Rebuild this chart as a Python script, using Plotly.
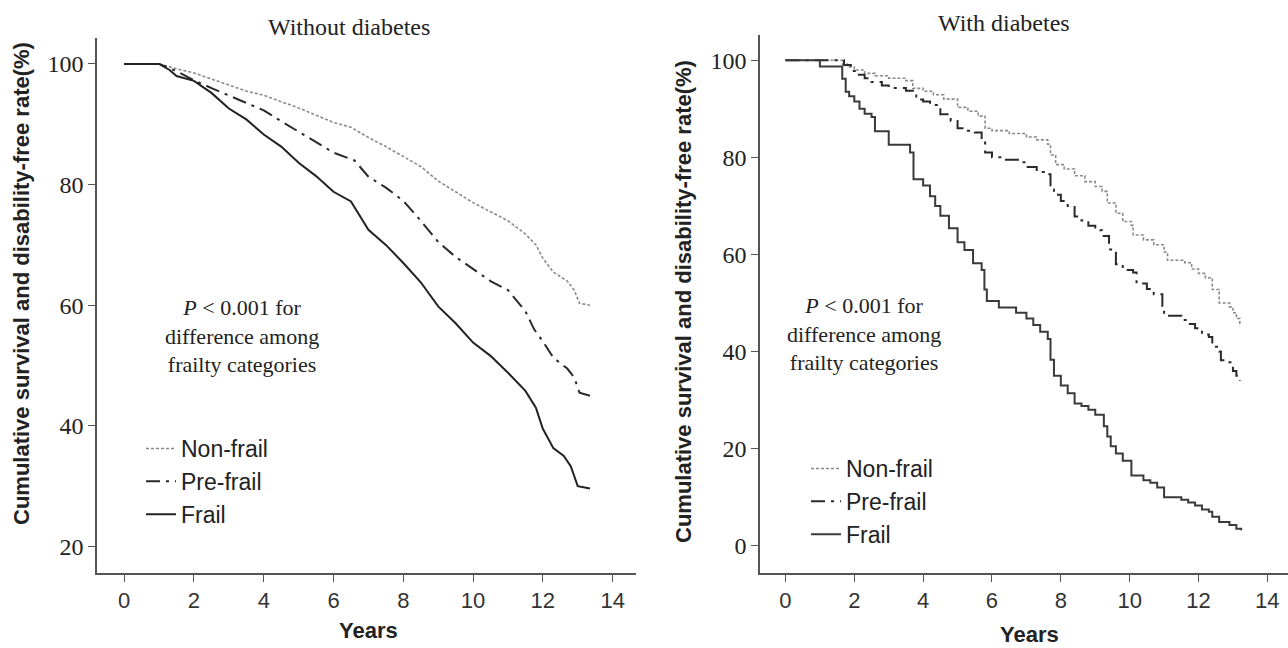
import plotly.graph_objects as go

# ---------------- Data: Without diabetes (left panel) ----------------
nd_nonfrail_x = [0, 1.0, 1.5, 2, 2.5, 3, 3.5, 4, 4.5, 5, 5.5, 6, 6.5, 7, 7.5, 8, 8.5, 9, 9.5, 10,
                 10.5, 11, 11.5, 11.8, 12, 12.3, 12.7, 12.9, 13.05, 13.35]
nd_nonfrail_y = [100, 100, 99.2, 98.5, 97.5, 96.5, 95.5, 94.8, 93.8, 92.7, 91.5, 90.3, 89.5, 87.8, 86.3,
                 84.6, 83.0, 80.6, 78.8, 77.0, 75.5, 74.0, 71.8, 70.0, 67.8, 65.5, 64.0, 62.5, 60.3, 60.0]

nd_prefrail_x = [0, 1.0, 1.5, 2, 2.5, 3, 3.5, 4, 4.5, 5, 5.5, 6, 6.6, 7, 7.5, 8, 8.5, 9, 9.5, 10,
                 10.5, 11, 11.5, 11.75, 12, 12.3, 12.7, 12.9, 13.05, 13.35]
nd_prefrail_y = [100, 100, 98.8, 97.3, 96.0, 94.8, 93.5, 92.3, 90.5, 88.8, 87.0, 85.3, 84.0, 81.3, 79.5,
                 77.3, 74.0, 70.5, 68.0, 66.0, 64.0, 62.5, 59.0, 56.0, 54.0, 51.3, 49.5, 48.0, 45.5, 45.0]

nd_frail_x = [0, 1.0, 1.3, 1.5, 2, 2.5, 3, 3.5, 4, 4.5, 5, 5.5, 6, 6.5, 7, 7.5, 8, 8.5, 9, 9.5, 10,
              10.5, 11, 11.5, 11.8, 12, 12.3, 12.6, 12.8, 13.0, 13.35]
nd_frail_y = [100, 100, 99.0, 98.0, 97.2, 95.2, 92.6, 90.8, 88.3, 86.3, 83.6, 81.4, 78.8, 77.2, 72.5,
              70.0, 67.0, 63.8, 59.8, 57.0, 53.8, 51.6, 48.8, 45.8, 43.0, 39.5, 36.3, 35.0, 33.3, 30.0, 29.6]

# ---------------- Data: With diabetes (right panel) ----------------
wd_nonfrail_x = [0, 1.65, 1.8, 2.0, 2.3, 2.6, 3.0, 3.5, 3.7, 4.0, 4.3, 4.6, 5.0, 5.3, 5.6, 5.8, 6.0, 6.5,
                 7.0, 7.3, 7.62, 7.7, 7.85, 8.1, 8.4, 8.7, 9.0, 9.2, 9.35, 9.6, 9.8, 10.05, 10.1, 10.4,
                 10.7, 11.0, 11.1, 11.6, 11.8, 12.0, 12.2, 12.4, 12.6, 12.9, 13.0, 13.1, 13.2]
wd_nonfrail_y = [100, 99.2, 98.6, 98.0, 97.3, 96.8, 96.3, 95.8, 94.2, 93.6, 92.9, 92.0, 90.3, 89.5, 88.5,
                 86.0, 85.5, 84.9, 84.2, 83.6, 82.7, 80.5, 78.5, 77.6, 76.2, 75.0, 74.0, 73.0, 70.6, 68.5,
                 66.8, 66.0, 64.0, 63.0, 62.0, 60.5, 58.8, 58.3, 57.0, 56.1, 55.2, 52.8, 50.0, 49.2, 48.0,
                 46.8, 45.2]

wd_prefrail_x = [0, 1.7, 1.9, 2.1, 2.3, 2.5, 2.8, 3.0, 3.5, 3.8, 4.0, 4.2, 4.5, 4.8, 5.0, 5.3, 5.5, 5.7,
                 5.8, 6.0, 6.3, 6.8, 7.0, 7.3, 7.6, 7.7, 7.8, 8.0, 8.2, 8.4, 8.6, 8.8, 9.0, 9.2, 9.4, 9.6,
                 9.8, 10.1, 10.2, 10.5, 10.7, 10.95, 11.0, 11.5, 11.7, 11.9, 12.1, 12.3, 12.4, 12.6,
                 12.65, 12.8, 13.0, 13.1, 13.2]
wd_prefrail_y = [100, 99.0, 97.8, 97.0, 96.3, 95.5, 94.8, 94.3, 93.7, 91.9, 91.5, 90.8, 88.9, 87.5, 86.0,
                 85.5, 85.1, 83.5, 81.0, 80.0, 79.5, 79.0, 78.0, 77.0, 76.5, 73.4, 72.3, 71.0, 70.0, 67.8,
                 67.0, 65.9, 65.0, 63.8, 61.0, 58.0, 56.8, 56.3, 54.0, 52.9, 51.8, 49.4, 47.4, 46.5, 45.7,
                 44.8, 43.5, 43.0, 41.0, 40.0, 38.2, 37.8, 36.0, 35.0, 34.0]

wd_frail_x = [0, 1.0, 1.65, 1.75, 1.85, 2.0, 2.15, 2.3, 2.5, 2.6, 3.0, 3.62, 3.72, 4.0, 4.2, 4.35, 4.5,
              4.75, 5.0, 5.2, 5.45, 5.7, 5.78, 5.85, 6.2, 6.7, 7.0, 7.2, 7.4, 7.62, 7.7, 7.8, 8.0, 8.2,
              8.4, 8.6, 8.8, 9.0, 9.25, 9.35, 9.45, 9.6, 9.8, 10.05, 10.4, 10.6, 10.8, 11.0, 11.5, 11.7,
              11.9, 12.1, 12.3, 12.4, 12.6, 12.9, 13.1, 13.24]
wd_frail_y = [100, 98.7, 96.2, 93.5, 92.6, 91.5, 90.0, 89.0, 88.3, 85.4, 82.6, 81.0, 75.5, 74.2, 72.0,
              70.0, 68.0, 65.4, 62.5, 60.9, 58.2, 56.8, 52.8, 50.4, 49.1, 48.0, 46.8, 45.5, 44.1, 42.6,
              38.3, 35.0, 33.0, 31.4, 29.3, 28.8, 28.0, 27.0, 24.6, 22.5, 20.5, 19.0, 17.5, 14.5, 13.5,
              13.0, 12.0, 10.0, 9.5, 8.9, 8.3, 7.5, 7.0, 6.0, 4.9, 4.3, 3.5, 3.2]

group_names = ["Non-frail", "Pre-frail", "Frail"]
left_y_ticks = [20, 40, 60, 80, 100]
right_y_ticks = [0, 20, 40, 60, 80, 100]
x_ticks = [0, 2, 4, 6, 8, 10, 12, 14]

# ---------------- Styles ----------------
styles = {
    "Non-frail": dict(color="#8a8a8a", width=1.6, dash="3px,2px"),
    "Pre-frail": dict(color="#2a2a2a", width=2.0, dash="14px,6px,3px,6px"),
    "Frail": dict(color="#222222", width=2.0, dash="solid"),
}

fig = go.Figure()

left_sets = [(nd_nonfrail_x, nd_nonfrail_y), (nd_prefrail_x, nd_prefrail_y), (nd_frail_x, nd_frail_y)]
right_sets = [(wd_nonfrail_x, wd_nonfrail_y), (wd_prefrail_x, wd_prefrail_y), (wd_frail_x, wd_frail_y)]

for name, (xs, ys) in zip(group_names, left_sets):
    fig.add_trace(go.Scatter(x=xs, y=ys, mode="lines", name=name, line=styles[name],
                             xaxis="x", yaxis="y", legend="legend", line_shape="linear"))
for name, (xs, ys) in zip(group_names, right_sets):
    st = dict(styles[name])
    if name == "Frail":
        st["color"] = "#3a3a3a"
    fig.add_trace(go.Scatter(x=xs, y=ys, mode="lines", name=name, line=st,
                             xaxis="x2", yaxis="y2", legend="legend2", line_shape="hv"))

W, H = 1288, 648
def px(v):
    return v / W
def py(v):
    return 1 - v / H

axis_common = dict(showline=True, linecolor="#555555", linewidth=1.5, ticks="outside",
                   ticklen=7, tickcolor="#555555", tickwidth=1.2, showgrid=False, zeroline=False)
xtick_font = dict(family="Liberation Sans, Arial, sans-serif", size=22, color="#333333")
ytick_font = dict(family="Liberation Serif, Times New Roman, serif", size=24, color="#222222")
legend_font = dict(family="Liberation Sans, Arial, sans-serif", size=23, color="#222")

fig.update_layout(
    width=W, height=H,
    margin=dict(l=0, r=0, t=0, b=0),
    paper_bgcolor="white", plot_bgcolor="white",
    xaxis=dict(domain=[px(97), px(636)], range=[-0.78, 14.67], tickvals=x_ticks,
               tickfont=xtick_font, anchor="y", **axis_common),
    yaxis=dict(domain=[py(573), py(38)], range=[15.6, 104.3], tickvals=left_y_ticks,
               tickfont=ytick_font, anchor="x", **axis_common),
    xaxis2=dict(domain=[px(760), 1.0], range=[-0.74, 14.6], tickvals=x_ticks,
                tickfont=xtick_font, anchor="y2", **axis_common),
    yaxis2=dict(domain=[py(573), py(35)], range=[-5.6, 105.2], tickvals=right_y_ticks,
                tickfont=ytick_font, anchor="x2", **axis_common),
    legend=dict(x=px(141), y=py(427), xanchor="left", yanchor="top", font=legend_font,
                bgcolor="rgba(0,0,0,0)", itemwidth=30, tracegroupgap=0),
    legend2=dict(x=px(806), y=py(447), xanchor="left", yanchor="top", font=legend_font,
                 bgcolor="rgba(0,0,0,0)", itemwidth=30, tracegroupgap=0),
    showlegend=True,
)

serif = "Liberation Serif, Times New Roman, serif"
sans = "Liberation Sans, Arial, sans-serif"

def note_ann(text, x, y, font, angle=0):
    return dict(text=text, x=px(x), y=py(y), xref="paper", yref="paper", showarrow=False,
                xanchor="center", yanchor="middle", align="center", textangle=angle, font=font)

title_font = dict(family=serif, size=24, color="#222")
ytitle_font = dict(family=sans, size=22, color="#222")
xtitle_font = dict(family=sans, size=22, color="#222")
pnote_font = dict(family=serif, size=22, color="#222")

ytitle = "<b>Cumulative survival and disability-free rate(%)</b>"
note = "<i>P</i> &lt; 0.001 for<br>difference among<br>frailty categories"
ann = [
    note_ann("Without diabetes", 349, 27, title_font),
    note_ann("With diabetes", 1004, 23, title_font),
    note_ann(ytitle, 22, 284, ytitle_font, -90),
    note_ann(ytitle, 684, 301, ytitle_font, -90),
    note_ann("<b>Years</b>", 368, 630, xtitle_font),
    note_ann("<b>Years</b>", 1029, 634, xtitle_font),
    note_ann(note, 242, 336, pnote_font),
    note_ann(note, 864, 334, pnote_font),
]
fig.update_layout(annotations=ann)

fig.write_html("out.html", config={"displayModeBar": False},
               post_script="document.body.style.margin='0';document.body.style.overflow='hidden';")
